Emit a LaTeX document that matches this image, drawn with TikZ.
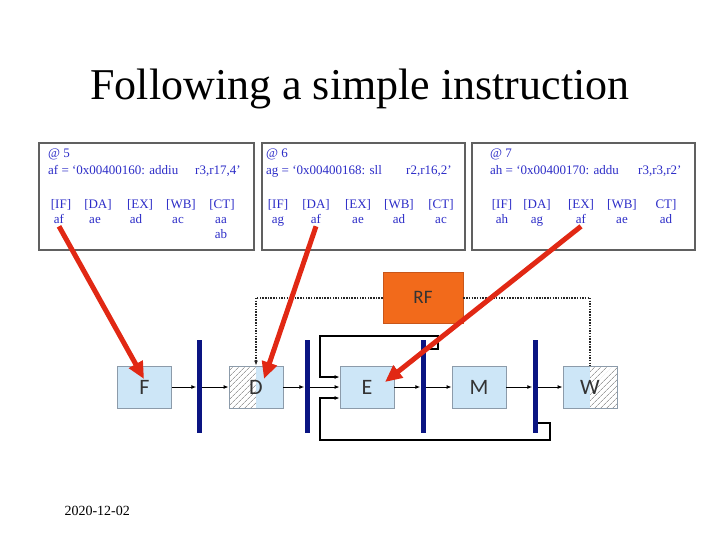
\documentclass[tikz,border=0pt]{standalone}
\usepackage{fontspec}
\setmainfont{Liberation Serif}
\newfontfamily\carlito{Carlito}
\usetikzlibrary{arrows.meta,patterns.meta}
\definecolor{codeblue}{RGB}{45,45,200}
\definecolor{stagefill}{RGB}{205,230,247}
\definecolor{stageline}{RGB}{140,155,170}
\definecolor{rffill}{RGB}{242,106,27}
\definecolor{rfline}{RGB}{200,86,26}
\definecolor{barblue}{RGB}{10,20,130}
\definecolor{redarr}{RGB}{225,40,20}
\begin{document}
\begin{tikzpicture}[x=1pt,y=-1pt,
  infobox/.style={draw=gray!75!black, line width=1.4pt, fill=white, inner sep=0pt},
  btxt/.style={font=\fontsize{13}{13}\selectfont, text=codeblue, inner sep=0pt, anchor=base west},
  ctxt/.style={font=\fontsize{13}{13}\selectfont, text=codeblue, inner sep=0pt, anchor=base},
  stage/.style={draw=stageline, line width=0.8pt, fill=stagefill, minimum width=54pt, minimum height=42pt, inner sep=0pt, font=\carlito\fontsize{22}{22}\selectfont, text=black!80},
  hatchleft/.style={path picture={
     \fill[white] (path picture bounding box.north west) rectangle (path picture bounding box.south);
     \fill[pattern={Lines[angle=45,distance=4pt,line width=0.7pt]}, pattern color=gray!75] (path picture bounding box.north west) rectangle (path picture bounding box.south);}},
  hatchright/.style={path picture={
     \fill[white] (path picture bounding box.north) rectangle (path picture bounding box.south east);
     \fill[pattern={Lines[angle=45,distance=4pt,line width=0.7pt]}, pattern color=gray!75] (path picture bounding box.north) rectangle (path picture bounding box.south east);}},
  pbar/.style={fill=barblue, minimum width=5pt, minimum height=93pt, inner sep=0pt},
  flow/.style={-{Latex[length=5pt,width=4pt]}, line width=1pt, black},
  loopline/.style={-{Latex[length=5pt,width=4pt]}, line width=1.6pt, black},
  dotline/.style={line width=2pt, dash pattern=on 1.5pt off 1.2pt, black!85},
  redarrow/.style={-{Triangle[length=17pt,width=15pt]}, line width=5pt, redarr}
]
\useasboundingbox (0,0) rectangle (720,540);

% title and date
\node[font=\fontsize{44}{44}\selectfont, anchor=base] (title) at (360,100) {Following a simple instruction};
\node[font=\fontsize{14}{14}\selectfont, anchor=base west] (date) at (61,515) {2020-12-02};

% info boxes
\node[infobox, minimum width=215pt, minimum height=107pt] (box1) at (146.5,196.5) {};
\node[infobox, minimum width=203pt, minimum height=107pt] (box2) at (363.5,196.5) {};
\node[infobox, minimum width=223pt, minimum height=107pt] (box3) at (583.5,196.5) {};

% box 1
\node[btxt] (h1) at (48,158) {@ 5};
\node[btxt] (i1) at (48,175) {af = `0x00400160: addiu};
\node[btxt] (o1) at (195,175) {r3,r17,4'};
\foreach \x/\t [count=\k] in {61/[IF],98/[DA],140/[EX],181/[WB],222/[CT]}
  \node[ctxt] (c1\k) at (\x,209) {\t};
\node[ctxt] (a1) at (59,223) {af};
\foreach \x/\t [count=\k] in {95/ae,136/ad,178/ac,221/aa}
  \node[ctxt] (v1\k) at (\x,223) {\t};
\node[ctxt] (v1x) at (221,239) {ab};

% box 2
\node[btxt] (h2) at (266,158) {@ 6};
\node[btxt] (i2) at (266,175) {ag = `0x00400168: sll};
\node[btxt] (o2) at (406,175) {r2,r16,2'};
\foreach \x/\t [count=\k] in {278/[IF],316/[DA],358/[EX],399/[WB],441/[CT]}
  \node[ctxt] (c2\k) at (\x,209) {\t};
\node[ctxt] (a2) at (316,223) {af};
\foreach \x/\t [count=\k] in {278/ag,358/ae,399/ad,441/ac}
  \node[ctxt] (v2\k) at (\x,223) {\t};

% box 3
\node[btxt] (h3) at (490,158) {@ 7};
\node[btxt] (i3) at (490,175) {ah = `0x00400170: addu};
\node[btxt] (o3) at (638,175) {r3,r3,r2'};
\foreach \x/\t [count=\k] in {502/[IF],537/[DA],581/[EX],622/[WB],666/CT]}
  \node[ctxt] (c3\k) at (\x,209) {\t};
\node[ctxt] (a3) at (581,223) {af};
\foreach \x/\t [count=\k] in {502/ah,537/ag,622/ae,666/ad}
  \node[ctxt] (v3\k) at (\x,223) {\t};

% register file
\node[draw=rfline, line width=0.8pt, fill=rffill, minimum width=80pt, minimum height=51pt, inner sep=0pt,
      font=\carlito\fontsize{19}{19}\selectfont, text=black!80] (RF) at (423,297.5) {RF};

% pipeline stages
\node[stage] (F) at (144.5,387) {F};
\node[stage, hatchleft] (D) at (256,387) {D};
\node[stage] (E) at (367,387) {E};
\node[stage] (M) at (479,387) {M};
\node[stage, hatchright] (W) at (590,387) {W};

% pipeline registers
\node[pbar] (b1) at (199,386.5) {};
\node[pbar] (b2) at (307,386.5) {};
\node[pbar] (b3) at (423,386.5) {};
\node[pbar] (b4) at (535,386.5) {};

% main flow
\draw[flow] (F.east) -- (b1.west |- F.east);
\draw[flow] (b1.east |- D.west) -- (D.west);
\draw[flow] (D.east) -- (b2.west |- D.east);
\draw[flow] (b2.east |- E.west) -- (E.west);
\draw[flow] (E.east) -- (b3.west |- E.east);
\draw[flow] (b3.east |- M.west) -- (M.west);
\draw[flow] (M.east) -- (b4.west |- M.east);
\draw[flow] (b4.east |- W.west) -- (W.west);

% forwarding loops
\draw[loopline] ([yshift=-9pt]b3.north east) -- ++(12,0) |- (320,336) |- ([yshift=10pt]E.west);
\draw[loopline] ([yshift=10pt]b4.south east) -| (550,440) -| (320,398) -- ([yshift=-11pt]E.west);

% register file connections
\draw[dotline, -{Latex[length=5pt,width=4pt]}] (RF.west) -| (D.north);
\draw[dotline] (RF.east) -| (W.north);

% red arrows
\coordinate (t1) at (144,379);
\coordinate (t2) at (264,379);
\coordinate (t3) at (385,382);
\draw[redarrow] ([yshift=-3pt]a1.south) -- (t1);
\draw[redarrow] ([yshift=-3pt]a2.south) -- (t2);
\draw[redarrow] ([yshift=-3pt]a3.south) -- (t3);
\end{tikzpicture}
\end{document}
